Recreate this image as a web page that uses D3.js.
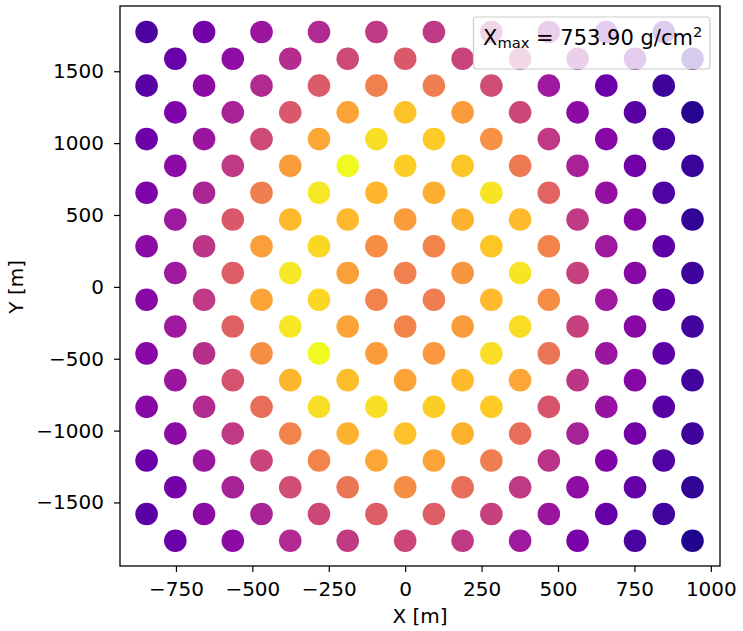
<!DOCTYPE html>
<html>
<head>
<meta charset="utf-8">
<script src="https://cdn.jsdelivr.net/npm/d3@7"></script>
<style>
  body { margin: 0; background: #fff; }
  text { font-family: "DejaVu Sans", sans-serif; fill: #000; }
</style>
</head>
<body>
<div id="scatter"></div>
<script>
var svgWidth = 743;
var svgHeight = 631;

// station columns (x, m) and rows (y, m) of the ground array
var xCols = [-846, -752, -658, -564, -470, -376, -282, -188, -94, 0,
             94, 188, 282, 376, 470, 564, 658, 752, 846, 940];
var yRows = [1773, 1587, 1400, 1214, 1028, 842, 655, 469, 283, 96,
             -90, -276, -463, -649, -835, -1021, -1208, -1394, -1580, -1766];

// normalised signal per station, one list per row (left to right)
var signal = [
  [0.13, 0.22, 0.33, 0.40, 0.45, 0.45, 0.42, 0.32, 0.22, 0.15],
  [0.20, 0.30, 0.41, 0.51, 0.56, 0.49, 0.45, 0.33, 0.22, 0.08],
  [0.16, 0.29, 0.40, 0.57, 0.69, 0.68, 0.52, 0.34, 0.20, 0.09],
  [0.25, 0.37, 0.56, 0.79, 0.87, 0.77, 0.50, 0.29, 0.16, 0.04],
  [0.21, 0.33, 0.51, 0.80, 0.94, 0.89, 0.74, 0.45, 0.27, 0.12],
  [0.29, 0.45, 0.77, 1.00, 0.90, 0.88, 0.67, 0.37, 0.22, 0.08],
  [0.25, 0.38, 0.68, 0.96, 0.84, 0.82, 0.95, 0.60, 0.31, 0.14],
  [0.34, 0.56, 0.85, 0.85, 0.77, 0.83, 0.85, 0.45, 0.27, 0.07],
  [0.29, 0.44, 0.78, 0.92, 0.73, 0.70, 0.88, 0.70, 0.34, 0.17],
  [0.34, 0.58, 0.96, 0.78, 0.69, 0.75, 0.95, 0.48, 0.28, 0.09],
  [0.28, 0.45, 0.79, 0.92, 0.70, 0.68, 0.85, 0.73, 0.34, 0.17],
  [0.34, 0.59, 0.96, 0.79, 0.70, 0.77, 0.93, 0.48, 0.28, 0.10],
  [0.28, 0.42, 0.73, 1.00, 0.77, 0.76, 0.94, 0.66, 0.33, 0.17],
  [0.33, 0.54, 0.84, 0.86, 0.79, 0.85, 0.80, 0.44, 0.27, 0.10],
  [0.28, 0.40, 0.63, 0.94, 0.94, 0.90, 0.89, 0.55, 0.32, 0.16],
  [0.29, 0.45, 0.70, 0.83, 0.87, 0.83, 0.63, 0.37, 0.22, 0.09],
  [0.20, 0.33, 0.49, 0.70, 0.80, 0.79, 0.68, 0.43, 0.26, 0.14],
  [0.23, 0.37, 0.52, 0.66, 0.73, 0.63, 0.45, 0.30, 0.18, 0.07],
  [0.16, 0.29, 0.37, 0.50, 0.58, 0.58, 0.48, 0.33, 0.19, 0.10],
  [0.20, 0.29, 0.40, 0.46, 0.50, 0.45, 0.34, 0.24, 0.12, 0.03]
];

var xTicks = [-750, -500, -250, 0, 250, 500, 750, 1000];
var yTicks = [-1500, -1000, -500, 0, 500, 1000, 1500];
var xmaxLabel = "753.90";

var plot = { left: 120, right: 720, top: 6, bottom: 566 };

var svg = d3
  .select("#scatter")
  .append("svg")
  .attr("width", svgWidth)
  .attr("height", svgHeight);

var xScale = d3.scaleLinear().domain([-933, 1030]).range([plot.left, plot.right]);
var yScale = d3.scaleLinear().domain([-1942, 1954]).range([plot.bottom, plot.top]);
var color = d3.scaleSequential(d3.interpolatePlasma).domain([0, 1]);

// rows alternate between even and odd columns
var stations = [];
yRows.forEach(function(y, j) {
  signal[j].forEach(function(s, k) {
    stations.push({ x: xCols[2 * k + (j % 2)], y: y, s: s });
  });
});

svg.append("g")
  .selectAll("circle")
  .data(stations)
  .enter()
  .append("circle")
  .attr("cx", function(d) { return xScale(d.x); })
  .attr("cy", function(d) { return yScale(d.y); })
  .attr("r", 11.3)
  .attr("fill", function(d) { return color(d.s); });

// axes
var xAxis = d3.axisBottom(xScale).tickValues(xTicks).tickSize(6).tickPadding(10)
  .tickFormat(function(d) { return d < 0 ? "\u2212" + Math.abs(d) : d; });
var yAxis = d3.axisLeft(yScale).tickValues(yTicks).tickSize(6).tickPadding(10)
  .tickFormat(function(d) { return d < 0 ? "\u2212" + Math.abs(d) : d; });

var gx = svg.append("g")
  .attr("transform", "translate(0," + plot.bottom + ")")
  .call(xAxis);
var gy = svg.append("g")
  .attr("transform", "translate(" + plot.left + ",0)")
  .call(yAxis);

[gx, gy].forEach(function(g) {
  g.select(".domain").remove();
  g.selectAll(".tick line").attr("stroke", "#000").attr("stroke-width", 1.2);
  g.selectAll(".tick text")
    .attr("font-family", "DejaVu Sans")
    .attr("font-size", 20)
    .attr("fill", "#000");
});

svg.append("rect")
  .attr("x", plot.left)
  .attr("y", plot.top)
  .attr("width", plot.right - plot.left)
  .attr("height", plot.bottom - plot.top)
  .attr("fill", "none")
  .attr("stroke", "#000")
  .attr("stroke-width", 1.3);

svg.append("text")
  .attr("x", (plot.left + plot.right) / 2)
  .attr("y", 623)
  .attr("text-anchor", "middle")
  .attr("font-size", 20)
  .text("X [m]");

svg.append("text")
  .attr("transform", "translate(23," + yScale(0) + ") rotate(-90)")
  .attr("text-anchor", "middle")
  .attr("font-size", 20)
  .text("Y [m]");

// legend box
var legend = svg.append("g");
legend.append("rect")
  .attr("x", 473.5)
  .attr("y", 17)
  .attr("width", 236.5)
  .attr("height", 52)
  .attr("rx", 3)
  .attr("fill", "#fff")
  .attr("fill-opacity", 0.8)
  .attr("stroke", "#cccccc")
  .attr("stroke-width", 1.2);

var lt = legend.append("text")
  .attr("x", 483)
  .attr("y", 45)
  .attr("font-size", 21);
lt.append("tspan").text("X");
lt.append("tspan").attr("font-size", 14.7).attr("dy", 3).text("max");
lt.append("tspan").attr("dy", -3).text(" = " + xmaxLabel + " g/cm");
lt.append("tspan").attr("font-size", 14.7).attr("dy", -8.5).text("2");
</script>
</body>
</html>
